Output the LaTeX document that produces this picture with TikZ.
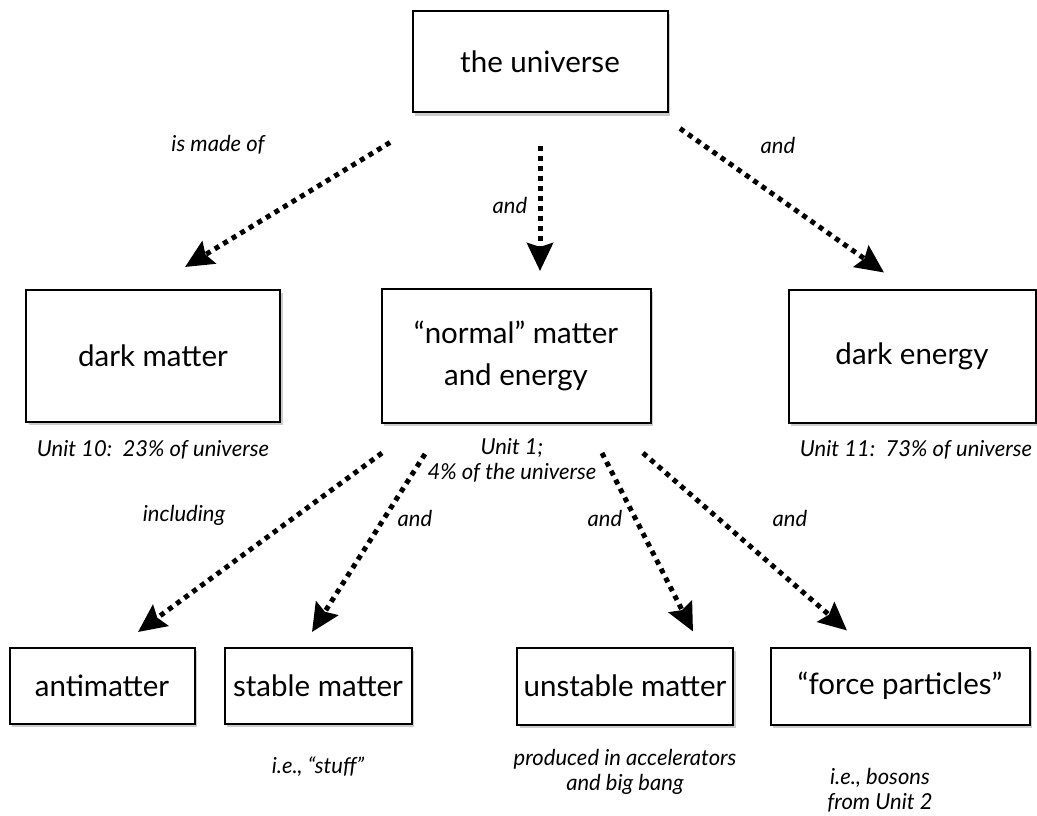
\documentclass[tikz,border=0pt]{standalone}
\usepackage{fontspec}
\setmainfont{Lato}
\usetikzlibrary{arrows.meta,shadows}

\tikzset{
  box/.style={draw, line width=2pt, fill=white, align=center, inner sep=0pt,
    font=\fontsize{29.5}{42}\selectfont,
    drop shadow={shadow xshift=2.5pt, shadow yshift=-3pt, opacity=0.4, fill=gray}},
  note/.style={font=\itshape\fontsize{22}{25}\selectfont, align=center},
  link/.style={line width=5pt, dash pattern=on 5pt off 5pt,
    -{Stealth[length=28pt,width=26pt,inset=4pt]}},
}

\begin{document}
\begin{tikzpicture}[x=1pt, y=-1pt]
\useasboundingbox (0,0) rectangle (1037,816);

% boxes
\node[box, minimum width=255, minimum height=101] (u) at (540,62) {the universe};
\node[box, minimum width=254, minimum height=132] (dm) at (153,356) {dark matter};
\node[box, minimum width=269, minimum height=134] (nm) at (516,356) {“normal” matter\\and energy};
\node[box, minimum width=247, minimum height=133] (de) at (912,356) {dark energy};
\node[box, minimum width=185, minimum height=76] (am) at (102,686) {antimatter};
\node[box, minimum width=187, minimum height=76] (sm) at (318,686) {stable matter};
\node[box, minimum width=216, minimum height=77] (um) at (625,686) {unstable matter};
\node[box, minimum width=259, minimum height=77] (fp) at (900,686) {“force particles”};

% captions
\node[note] (cdm) at (153,450) {Unit 10:~~23\% of universe};
\node[note] (cnm) at (512,460) {Unit 1;\\4\% of the universe};
\node[note] (cde) at (916,450) {Unit 11:~~73\% of universe};
\node[note] (csm) at (318,767) {i.e., “stuff”};
\node[note] (cum) at (625,772) {produced in accelerators\\and big bang};
\node[note] (cfp) at (880,790) {i.e., bosons\\from Unit 2};

% arrows
\draw[link] ([shift={(-150,29)}]u.south) -- ([shift={(32,-22)}]dm.north);
\draw[link] ([shift={(0,32)}]u.south) -- ([shift={(24,-17)}]nm.north);
\draw[link] ([shift={(140,15)}]u.south) -- ([shift={(-28,-16)}]de.north);
\draw[link] ([shift={(-134,29)}]nm.south) -- ([shift={(36,-15)}]am.north);
\draw[link] ([shift={(-91,30)}]nm.south) -- ([shift={(-6,-15)}]sm.north);
\draw[link] ([shift={(86,29)}]nm.south) -- ([shift={(68,-15)}]um.north);
\draw[link] ([shift={(127,29)}]nm.south) -- ([shift={(-53,-16)}]fp.north);

% arrow labels
\node[note] (l1) at (218,145) {is made of};
\node[note] (l2) at (510,205) {and};
\node[note] (l3) at (778,145) {and};
\node[note] (l4) at (184,515) {including};
\node[note] (l5) at (415,518) {and};
\node[note] (l6) at (605,518) {and};
\node[note] (l7) at (790,518) {and};
\end{tikzpicture}
\end{document}
